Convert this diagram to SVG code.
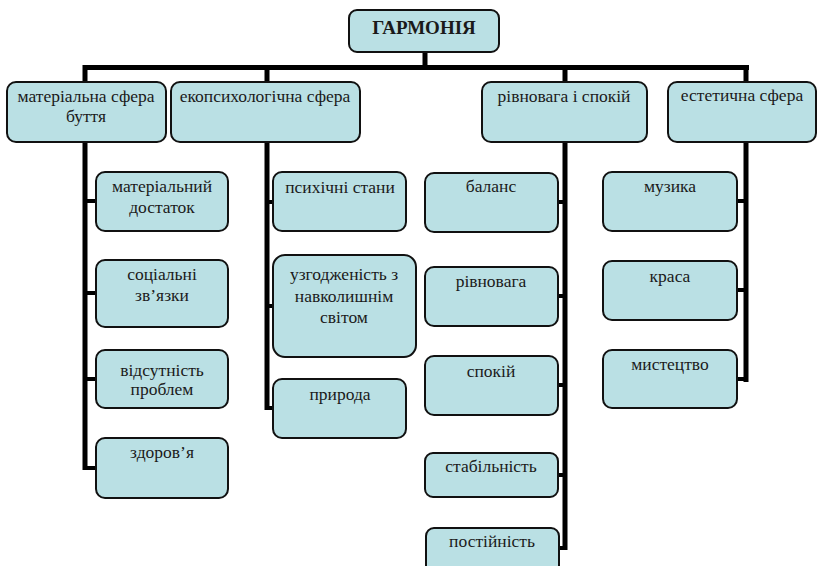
<svg xmlns="http://www.w3.org/2000/svg" width="820" height="566" viewBox="0 0 820 566">
<style>
.box{fill:#bae0e4;stroke:#111;stroke-width:2}
.lbl{font-family:'Liberation Serif','Times New Roman',serif;font-size:17.5px;fill:#1a1a1a;text-anchor:middle}
.bold{font-weight:bold;font-size:19px}
.ln{stroke:#000;stroke-width:5;fill:none}
.st{stroke:#000;stroke-width:4;fill:none}
</style>
<rect width="820" height="566" fill="#fff"/>
<g id="connectors">
<path class="ln" d="M425 52V68M83 67.5H749M85 65V470M267 65V410M565 65V550M746 65V382"/>
<path class="st" d="M85 201H97M85 293H97M85 379H97M85 468H97M267 202H274M267 306H274M267 408H274M559 202H565M559 296H565M559 385H565M559 475H565M559 548H565M737 201H746M737 290H746M737 379H746"/>
</g>
<g id="root"><rect class="box" x="349" y="10" width="150" height="42" rx="8"/><text class="lbl bold" x="424" y="34">ГАРМОНІЯ</text></g>
<g id="n1"><rect class="box" x="7" y="82" width="159" height="60" rx="9"/><text class="lbl" x="86" y="102">матеріальна сфера</text><text class="lbl" x="86" y="122">буття</text></g>
<g id="n2"><rect class="box" x="171" y="82" width="189" height="60" rx="9"/><text class="lbl" x="265" y="102">екопсихологічна сфера</text></g>
<g id="n3"><rect class="box" x="482" y="82" width="165" height="60" rx="9"/><text class="lbl" x="564" y="102">рівновага і спокій</text></g>
<g id="n4"><rect class="box" x="668" y="82" width="148" height="60" rx="9"/><text class="lbl" x="742" y="101">естетична сфера</text></g>
<g id="c1a"><rect class="box" x="96" y="172" width="132" height="59" rx="9"/><text class="lbl" x="162" y="192">матеріальний</text><text class="lbl" x="162" y="213">достаток</text></g>
<g id="c1b"><rect class="box" x="96" y="260" width="132" height="67" rx="9"/><text class="lbl" x="162" y="280">соціальні</text><text class="lbl" x="162" y="301">зв’язки</text></g>
<g id="c1c"><rect class="box" x="96" y="350" width="132" height="58" rx="9"/><text class="lbl" x="162" y="376">відсутність</text><text class="lbl" x="162" y="395">проблем</text></g>
<g id="c1d"><rect class="box" x="96" y="438" width="132" height="60" rx="9"/><text class="lbl" x="162" y="458">здоров’я</text></g>
<g id="c2a"><rect class="box" x="273" y="172" width="133" height="59" rx="9"/><text class="lbl" x="340" y="193">психічні стани</text></g>
<g id="c2b"><rect class="box" x="273" y="255" width="143" height="102" rx="12"/><text class="lbl" x="344" y="280">узгодженість з</text><text class="lbl" x="344" y="302">навколишнім</text><text class="lbl" x="344" y="323">світом</text></g>
<g id="c2c"><rect class="box" x="273" y="379" width="133" height="59" rx="9"/><text class="lbl" x="340" y="400">природа</text></g>
<g id="c3a"><rect class="box" x="425" y="173" width="133" height="59" rx="9"/><text class="lbl" x="491" y="192">баланс</text></g>
<g id="c3b"><rect class="box" x="425" y="267" width="133" height="59" rx="9"/><text class="lbl" x="491" y="287">рівновага</text></g>
<g id="c3c"><rect class="box" x="425" y="356" width="133" height="59" rx="9"/><text class="lbl" x="491" y="377">спокій</text></g>
<g id="c3d"><rect class="box" x="425" y="453" width="133" height="44" rx="8"/><text class="lbl" x="491" y="472">стабільність</text></g>
<g id="c3e"><rect class="box" x="426" y="528" width="133" height="50" rx="8"/><text class="lbl" x="492" y="547">постійність</text></g>
<g id="c4a"><rect class="box" x="603" y="172" width="134" height="59" rx="9"/><text class="lbl" x="670" y="192">музика</text></g>
<g id="c4b"><rect class="box" x="603" y="261" width="134" height="59" rx="9"/><text class="lbl" x="670" y="282">краса</text></g>
<g id="c4c"><rect class="box" x="603" y="350" width="134" height="58" rx="9"/><text class="lbl" x="670" y="370">мистецтво</text></g>
</svg>
